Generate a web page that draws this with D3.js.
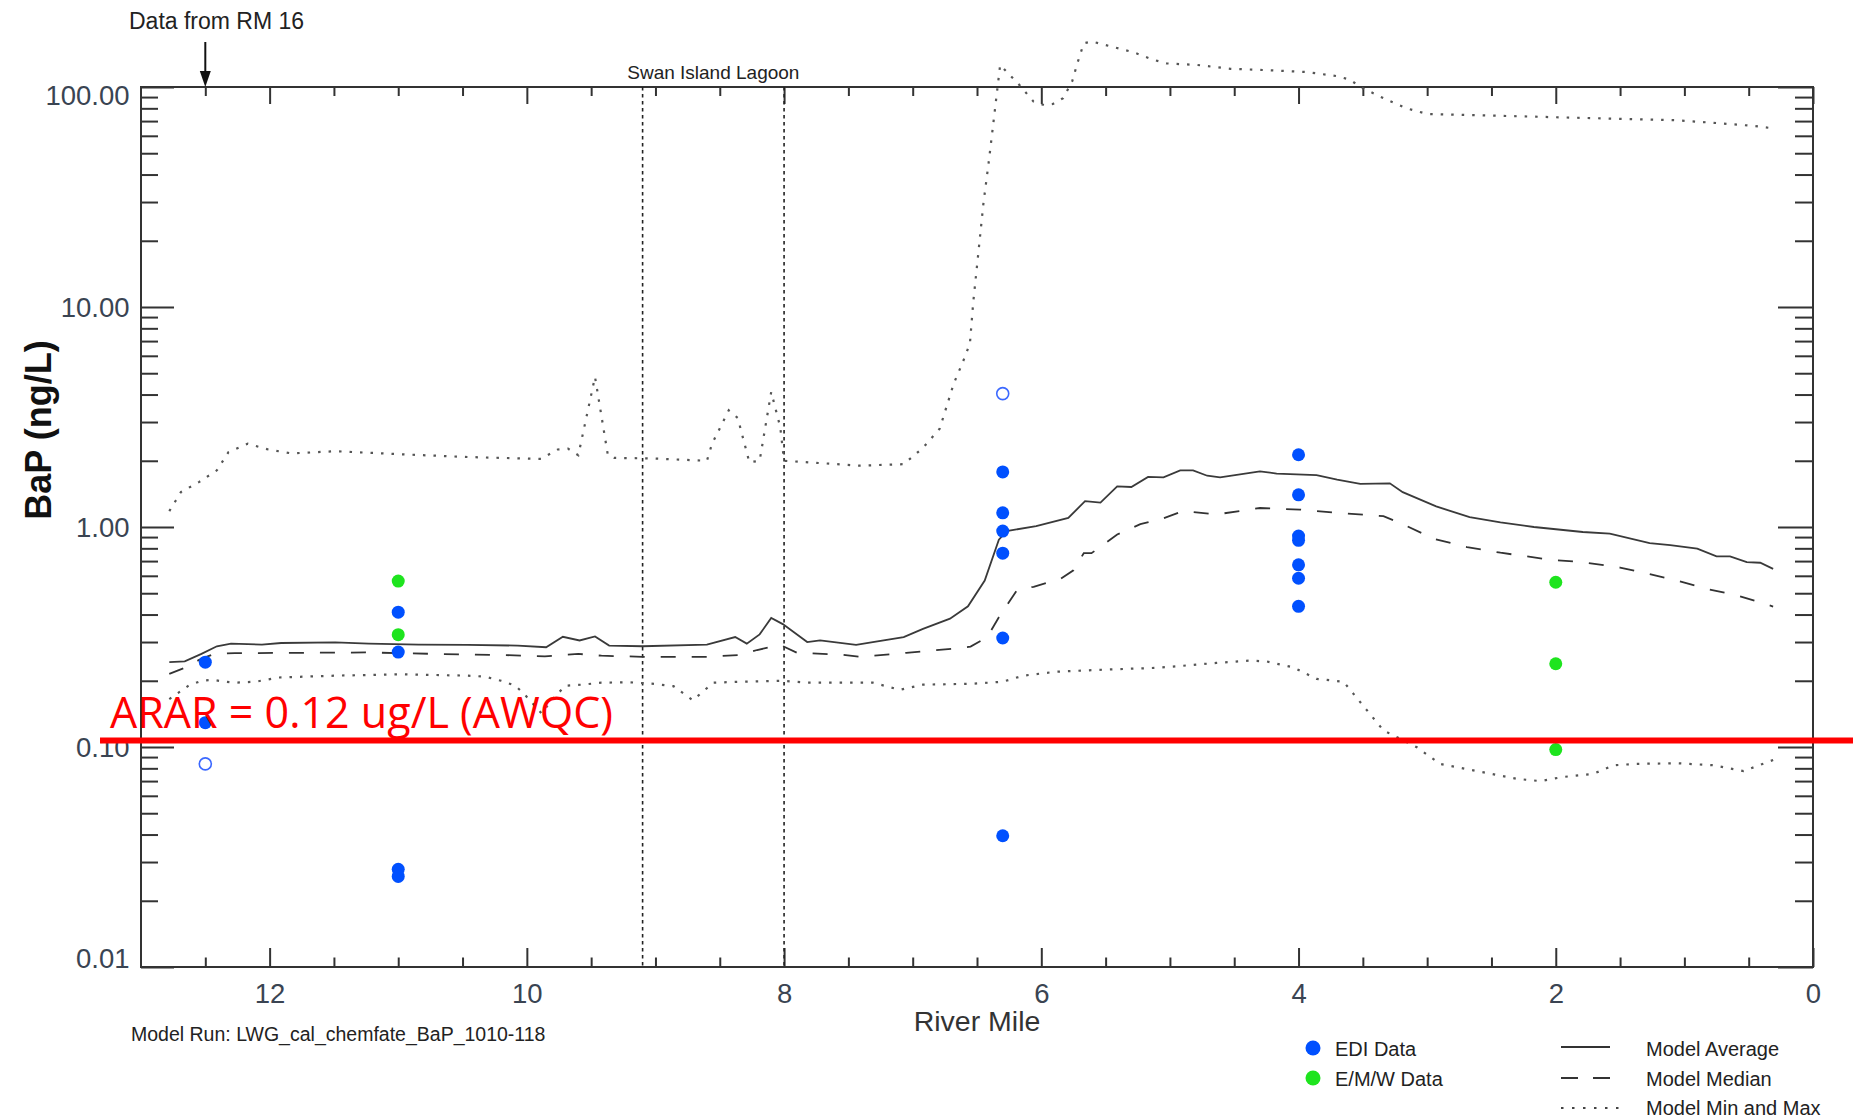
<!DOCTYPE html>
<html><head><meta charset="utf-8">
<script src="https://cdn.jsdelivr.net/npm/d3@7"></script>
<style>body{margin:0;background:#fff;} svg{display:block;}</style>
</head><body>
<svg id="chart" width="1853" height="1119"></svg>
<script>
// ---------------- DATA ----------------
const xTicksMajor = [12, 10, 8, 6, 4, 2, 0];
const yTicksMajor = [0.01, 0.1, 1, 10, 100];
const lagoonMiles = [9.1, 8.0];
const rmArrowMile = 12.5;
const ararValue = 0.107;
const ararLabel = "ARAR = 0.12 ug/L (AWQC)";

// EDI data (filled), [river mile, BaP ng/L]
const ediData = [
  [12.5, 0.243], [12.5, 0.129],
  [11.0, 0.41], [11.0, 0.27], [11.0, 0.0278], [11.0, 0.0258],
  [6.3, 1.78], [6.3, 1.16], [6.3, 0.958], [6.3, 0.76], [6.3, 0.313], [6.3, 0.0395],
  [4.0, 2.13], [4.0, 1.40], [4.0, 0.91], [4.0, 0.87], [4.0, 0.673], [4.0, 0.585], [4.0, 0.436]
];
// EDI data (open symbols)
const ediOpen = [[12.5, 0.0838], [6.3, 4.04]];
// E/M/W data
const emwData = [[11.0, 0.568], [11.0, 0.324], [2.0, 0.561], [2.0, 0.239], [2.0, 0.0973]];

const modelAverage = [
  [12.78,0.243],[12.66,0.245],[12.53,0.265],[12.41,0.287],[12.30,0.295],[12.06,0.292],[11.91,0.297],
  [11.49,0.299],[11.23,0.295],[10.84,0.292],[10.46,0.291],[10.07,0.289],[9.85,0.284],[9.72,0.317],
  [9.59,0.305],[9.47,0.318],[9.36,0.289],[9.10,0.287],[8.60,0.292],[8.38,0.316],[8.29,0.295],
  [8.19,0.325],[8.10,0.386],[8.01,0.362],[7.82,0.300],[7.72,0.305],[7.44,0.291],[7.31,0.300],
  [7.07,0.316],[6.92,0.344],[6.71,0.383],[6.57,0.436],[6.44,0.571],[6.33,0.875],[6.27,0.958],
  [6.04,1.01],[5.79,1.10],[5.66,1.31],[5.54,1.29],[5.41,1.53],[5.30,1.52],[5.17,1.69],[5.05,1.68],
  [4.92,1.81],[4.82,1.81],[4.71,1.71],[4.61,1.68],[4.30,1.79],[4.17,1.75],[3.86,1.72],[3.70,1.64],
  [3.52,1.57],[3.29,1.58],[3.19,1.44],[2.93,1.24],[2.67,1.11],[2.43,1.05],[2.17,1.00],[1.79,0.949],
  [1.58,0.934],[1.27,0.845],[1.11,0.828],[0.90,0.798],[0.75,0.735],[0.645,0.735],[0.515,0.692],
  [0.41,0.688],[0.31,0.645]
];
const modelMedian = [
  [12.78,0.215],[12.66,0.229],[12.53,0.252],[12.43,0.265],[12.27,0.267],[11.75,0.268],[11.23,0.269],
  [10.72,0.265],[10.20,0.262],[9.86,0.258],[9.60,0.265],[9.42,0.260],[9.10,0.257],[8.60,0.257],
  [8.34,0.262],[8.21,0.276],[8.03,0.291],[7.90,0.268],[7.56,0.263],[7.41,0.257],[7.05,0.268],
  [6.68,0.280],[6.55,0.286],[6.42,0.316],[6.33,0.389],[6.19,0.515],[6.06,0.535],[5.85,0.582],
  [5.75,0.636],[5.67,0.76],[5.61,0.76],[5.41,0.924],[5.23,1.03],[5.08,1.08],[4.90,1.18],[4.82,1.17],
  [4.64,1.14],[4.30,1.22],[3.99,1.20],[3.70,1.16],[3.34,1.12],[3.19,1.03],[2.95,0.885],[2.69,0.811],
  [2.43,0.764],[2.04,0.71],[1.79,0.692],[1.50,0.654],[1.29,0.614],[1.06,0.571],[0.83,0.524],
  [0.59,0.489],[0.31,0.435]
];
const modelMax = [
  [12.78,1.18],[12.69,1.44],[12.55,1.60],[12.41,1.81],[12.32,2.19],[12.17,2.39],[12.01,2.25],
  [11.83,2.16],[11.49,2.21],[10.97,2.14],[10.46,2.08],[9.89,2.04],[9.76,2.25],[9.68,2.27],[9.60,2.12],
  [9.47,4.81],[9.37,2.12],[9.32,2.06],[9.03,2.05],[8.60,2.00],[8.56,2.39],[8.43,3.39],[8.36,3.13],
  [8.27,1.97],[8.19,2.00],[8.10,4.11],[8.03,2.85],[8.00,2.00],[7.41,1.90],[7.07,1.93],[6.92,2.29],
  [6.79,2.80],[6.68,4.5],[6.61,5.62],[6.555,6.82],[6.53,10.4],[6.49,17.5],[6.45,29.6],[6.41,45],
  [6.37,70.8],[6.34,100],[6.32,126],[6.17,102],[6.06,85.8],[5.98,82.8],[5.91,83.7],[5.83,89],
  [5.76,106],[5.72,128],[5.67,158],[5.61,161],[5.44,152],[5.285,144],[5.13,133],[5.025,128],
  [4.79,126],[4.53,121],[4.20,119],[3.94,117],[3.70,112],[3.60,108],[3.52,100],[3.31,87.3],
  [3.16,80],[3.00,75.4],[2.17,73.3],[1.55,71.8],[1.06,70.6],[0.72,68.4],[0.46,66.5],[0.31,64.9]
];
const modelMin = [
  [12.78,0.165],[12.63,0.19],[12.53,0.200],[12.44,0.202],[12.35,0.198],[12.27,0.196],[12.11,0.198],
  [11.93,0.207],[11.49,0.211],[10.97,0.214],[10.46,0.211],[10.33,0.209],[10.20,0.200],[10.09,0.190],
  [10.02,0.174],[9.885,0.142],[9.81,0.163],[9.70,0.190],[9.57,0.192],[9.42,0.196],[9.21,0.197],
  [9.03,0.194],[8.86,0.189],[8.71,0.163],[8.55,0.196],[8.34,0.198],[8.01,0.200],[7.82,0.196],
  [7.31,0.196],[7.10,0.182],[6.92,0.192],[6.53,0.194],[6.30,0.198],[6.14,0.211],[5.88,0.220],
  [5.49,0.225],[5.10,0.229],[4.90,0.234],[4.64,0.241],[4.38,0.247],[4.25,0.245],[4.04,0.230],
  [3.86,0.204],[3.65,0.198],[3.55,0.168],[3.34,0.119],[3.08,0.0997],[2.90,0.0838],[2.56,0.0767],
  [2.30,0.0716],[2.12,0.070],[1.95,0.073],[1.71,0.0754],[1.55,0.0826],[1.37,0.0838],[1.06,0.0844],
  [0.77,0.0826],[0.54,0.0777],[0.31,0.0873]
];

// ---------------- DRAWING ----------------
const FONT = "'Liberation Sans', Arial, sans-serif";
const svg = d3.select('#chart');
const plot = {l: 141, r: 1813, t: 87, b: 967};
const x = d3.scaleLinear().domain([13, 0]).range([plot.l, plot.r]);
const y = d3.scaleLog().domain([0.01, 100]).range([plot.b, plot.t]);

const xMinor = d3.range(0, 13, 0.5).filter(v => !xTicksMajor.includes(v));
const yMinor = [];
[0.01, 0.1, 1, 10].forEach(d => { for (let k = 2; k <= 9; k++) yMinor.push(+(d * k).toPrecision(3)); });

function axisG(gen, transform, labelled) {
  const g = svg.append('g').attr('transform', transform).call(gen);
  g.select('.domain').remove();
  g.attr('font-family', FONT).attr('font-size', 27.5).attr('color', '#333');
  g.selectAll('line').attr('stroke-width', 2);
  g.selectAll('text').attr('fill', '#3a4452');
  return g;
}
// bottom
axisG(d3.axisBottom(x).tickValues(xTicksMajor).tickSize(-19).tickPadding(16).tickFormat(d3.format('d')), `translate(0,${plot.b})`);
axisG(d3.axisBottom(x).tickValues(xMinor).tickSize(-9.5).tickFormat(''), `translate(0,${plot.b})`);
// top
axisG(d3.axisTop(x).tickValues(xTicksMajor).tickSize(-17).tickFormat(''), `translate(0,${plot.t})`);
axisG(d3.axisTop(x).tickValues(xMinor).tickSize(-9).tickFormat(''), `translate(0,${plot.t})`);
// left
const gl = axisG(d3.axisLeft(y).tickValues(yTicksMajor).tickSize(-33).tickPadding(11.5).tickFormat(d3.format('.2f')), `translate(${plot.l},0)`);
axisG(d3.axisLeft(y).tickValues(yMinor).tickSize(-17).tickFormat(''), `translate(${plot.l},0)`);
gl.selectAll('text').attr('dy', d => d === 100 ? '0.62em' : d === 0.01 ? '0.02em' : '0.34em');
// right
axisG(d3.axisRight(y).tickValues(yTicksMajor).tickSize(-35).tickFormat(''), `translate(${plot.r},0)`);
axisG(d3.axisRight(y).tickValues(yMinor).tickSize(-18).tickFormat(''), `translate(${plot.r},0)`);

// frame
svg.append('rect').attr('x', plot.l).attr('y', plot.t).attr('width', plot.r - plot.l).attr('height', plot.b - plot.t)
  .attr('fill', 'none').attr('stroke', '#333').attr('stroke-width', 2);

// lagoon vertical lines
svg.selectAll('line.lagoon').data(lagoonMiles).join('line').attr('class', 'lagoon')
  .attr('x1', d => x(d)).attr('x2', d => x(d)).attr('y1', plot.t).attr('y2', plot.b)
  .attr('stroke', '#222').attr('stroke-width', 1.6).attr('stroke-dasharray', '3.5,3.5');
svg.append('text').attr('x', x(d3.mean(lagoonMiles))).attr('y', 79).attr('text-anchor', 'middle')
  .attr('font-family', FONT).attr('font-size', 19).attr('fill', '#222').text('Swan Island Lagoon');

// model lines
const line = d3.line().x(d => x(d[0])).y(d => y(d[1]));
[modelMax, modelMin].forEach(s => svg.append('path').attr('d', line(s)).attr('fill', 'none')
  .attr('stroke', '#555').attr('stroke-width', 2.2).attr('stroke-dasharray', '2.5,8'));
svg.append('path').attr('d', line(modelMedian)).attr('fill', 'none')
  .attr('stroke', '#333').attr('stroke-width', 1.8).attr('stroke-dasharray', '15,16');
svg.append('path').attr('d', line(modelAverage)).attr('fill', 'none')
  .attr('stroke', '#3a3a3a').attr('stroke-width', 1.8);

// data points
const BLUE = '#0050ff', GREEN = '#1ee41e';
svg.selectAll('circle.edi').data(ediData).join('circle').attr('class', 'edi')
  .attr('cx', d => x(d[0])).attr('cy', d => y(d[1])).attr('r', 6.5).attr('fill', BLUE);
svg.selectAll('circle.emw').data(emwData).join('circle').attr('class', 'emw')
  .attr('cx', d => x(d[0])).attr('cy', d => y(d[1])).attr('r', 6.5).attr('fill', GREEN);
svg.selectAll('circle.open').data(ediOpen).join('circle').attr('class', 'open')
  .attr('cx', d => x(d[0])).attr('cy', d => y(d[1])).attr('r', 6).attr('fill', 'none')
  .attr('stroke', '#3b68ff').attr('stroke-width', 1.6);

// RM 16 annotation
svg.append('text').attr('x', 129).attr('y', 29).attr('font-family', FONT).attr('font-size', 23)
  .attr('fill', '#222').text('Data from RM 16');
const ax = x(rmArrowMile);
svg.append('line').attr('x1', ax).attr('x2', ax).attr('y1', 42).attr('y2', 74).attr('stroke', '#111').attr('stroke-width', 2);
svg.append('path').attr('d', `M${ax - 5.5},71 L${ax + 5.5},71 L${ax},${plot.t} Z`).attr('fill', '#111');

// axis titles
svg.append('text').attr('x', (plot.l + plot.r) / 2).attr('y', 1031).attr('text-anchor', 'middle')
  .attr('font-family', FONT).attr('font-size', 28.5).attr('fill', '#333').text('River Mile');
svg.append('text').attr('transform', 'translate(51,430) rotate(-90)').attr('text-anchor', 'middle')
  .attr('font-family', FONT).attr('font-size', 36).attr('font-weight', 'bold').attr('fill', '#111').text('BaP (ng/L)');
svg.append('text').attr('x', 131).attr('y', 1041).attr('font-family', FONT).attr('font-size', 19.5)
  .attr('fill', '#222').text('Model Run: LWG_cal_chemfate_BaP_1010-118');

// legend
const lg = svg.append('g').attr('font-family', FONT).attr('font-size', 20).attr('fill', '#222');
lg.append('circle').attr('cx', 1313).attr('cy', 1048).attr('r', 7.5).attr('fill', BLUE);
lg.append('circle').attr('cx', 1313).attr('cy', 1078).attr('r', 7.5).attr('fill', GREEN);
lg.append('text').attr('x', 1335).attr('y', 1056).text('EDI Data');
lg.append('text').attr('x', 1335).attr('y', 1086).text('E/M/W Data');
lg.append('line').attr('x1', 1561).attr('x2', 1610).attr('y1', 1047).attr('y2', 1047).attr('stroke', '#333').attr('stroke-width', 1.8);
lg.append('line').attr('x1', 1561).attr('x2', 1610).attr('y1', 1078).attr('y2', 1078).attr('stroke', '#333').attr('stroke-width', 1.8).attr('stroke-dasharray', '17,15');
lg.append('line').attr('x1', 1561).attr('x2', 1622).attr('y1', 1108).attr('y2', 1108).attr('stroke', '#444').attr('stroke-width', 2.2).attr('stroke-dasharray', '2.5,8.5');
lg.append('text').attr('x', 1646).attr('y', 1056).text('Model Average');
lg.append('text').attr('x', 1646).attr('y', 1086).text('Model Median');
lg.append('text').attr('x', 1646).attr('y', 1115).text('Model Min and Max');

// ARAR line and label
svg.append('line').attr('x1', 100).attr('x2', 1853).attr('y1', y(ararValue)).attr('y2', y(ararValue))
  .attr('stroke', '#ff0000').attr('stroke-width', 6);
svg.append('text').attr('x', 110).attr('y', 728).attr('font-family', "'Open Sans', 'Noto Sans', sans-serif")
  .attr('font-size', 44).attr('fill', '#ff0000').attr('textLength', 503).attr('lengthAdjust', 'spacingAndGlyphs')
  .text(ararLabel);
</script>
</body></html>
